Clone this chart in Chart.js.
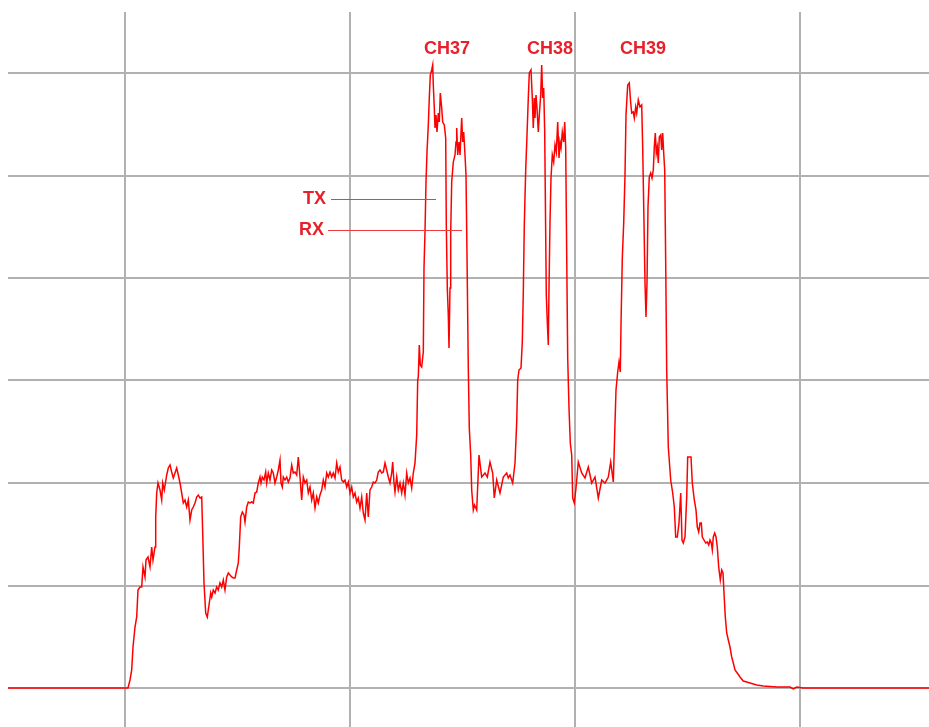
<!DOCTYPE html>
<html>
<head>
<meta charset="utf-8">
<title>BLE advertising channels</title>
<script src="https://cdn.jsdelivr.net/npm/chart.js@4.4.1/dist/chart.umd.min.js"></script>
<style>
  html, body { margin: 0; padding: 0; background: #ffffff; }
  #wrap { width: 929px; height: 727px; position: relative; }
  canvas { display: block; }
</style>
</head>
<body>
<div id="wrap"><canvas id="spectrum" width="929" height="727"></canvas></div>
<script>
// Trace sweep: frequency bin (relative to first division line) and level in counts
const traceX = [
  -117, 3, 5, 6.7, 8, 10, 11.7, 13, 15, 16.7, 18, 20, 21, 23, 25, 26.7, 28, 30, 30.7, 31.7,
  33, 35, 36.7, 37.7, 39.3, 41.7, 43.3, 45, 46.7, 48.3, 50, 51.7, 53.3, 55, 56.7, 58.3, 60, 61.7, 63.3, 65,
  66.7, 68.3, 70, 71.7, 73.3, 75, 76.7, 77.7, 79, 80.7, 82.3, 84.3, 85.7, 86.7, 88.3, 90, 91.7, 93.3, 95, 96.7,
  98.3, 100, 101.7, 103.3, 105, 106.7, 108.3, 110, 111.7, 113.3, 114.3, 115.7, 117.3, 119, 120, 121.7, 123.3, 125, 126.7, 128.3,
  130, 131.7, 133.3, 135, 136, 137.3, 139, 140.7, 141.7, 143.3, 145, 146.7, 148.3, 150, 151.7, 153.3, 155, 156, 157.3, 158.3,
  160, 161.7, 163.3, 165, 166.7, 168.3, 170, 171.7, 173.3, 175, 176.7, 178.3, 180, 181.7, 183.3, 185, 186.7, 188.3, 190, 191.7,
  193.3, 195, 196.7, 198.3, 200, 201.7, 203.3, 205, 206.7, 208.3, 210, 211.7, 213.3, 215, 216.7, 218.3, 220, 221.7, 223.3, 225,
  226.7, 228.3, 230, 231.7, 233.3, 235, 236.7, 238.3, 240, 241.7, 243.3, 245, 246.7, 248.3, 250, 251.7, 253.3, 255, 256.7, 258.3,
  260, 261.7, 263.3, 265, 266.7, 267.7, 269, 270, 271.7, 273.3, 275, 276.7, 278.3, 280, 281.7, 283.3, 285, 286.7, 288.3, 290,
  291.7, 292.7, 293.3, 294.3, 295.3, 296.7, 298.3, 299, 300, 301, 302, 303.3, 304.3, 305.3, 306.7, 307.7, 308.3, 309.3, 310, 311,
  312, 313.3, 314.3, 315.3, 316.7, 317.7, 319.3, 320.7, 321.3, 322.3, 323.3, 324, 325, 325.7, 326.7, 328.3, 330, 331, 331.7, 332.7,
  334, 335, 336.7, 337.7, 338.7, 340, 341, 342, 343.3, 344.3, 345.7, 346.7, 348.3, 349.5, 351.7, 354, 356.7, 360, 362.3, 365,
  367.7, 369.3, 371.7, 375, 378.3, 381.7, 383.3, 385, 387.7, 390, 391.7, 392.7, 394, 396, 397.3, 398.3, 399.3, 400.7, 402, 403.3,
  404.3, 406, 407.3, 408.3, 409.3, 410, 411, 412, 413.3, 414.3, 415.7, 416.7, 417.7, 418.7, 419.7, 420.7, 421.3, 422.3, 423.3, 424,
  425, 426, 427.3, 428.7, 430, 431.3, 432.7, 434, 435, 436, 437.3, 438.7, 439.7, 440.7, 441.7, 442.7, 444, 445.3, 446.7, 447.7,
  449.3, 451, 453.3, 456.7, 460, 463.3, 466.7, 470, 473.3, 476.7, 480, 483.3, 485.7, 488.3, 490, 491, 492.7, 494, 495.3, 496,
  497.3, 498.7, 500, 501, 502.7, 504.3, 505.7, 506.7, 508.3, 509.3, 510.7, 511.7, 513.3, 515, 516.7, 517.7, 519, 520, 521, 522,
  523, 524.3, 525.7, 527, 528.3, 529.3, 530.3, 531.3, 532.3, 533.3, 534.3, 535.7, 536.7, 537.7, 538.7, 539.7, 540.7, 541.7, 543.3, 545.7,
  547.7, 549.3, 550.7, 552.3, 554, 555.7, 557, 558.3, 560, 561.7, 562.7, 566, 567.3, 569.3, 571, 572.3, 573.7, 575, 576.3, 577.3,
  579, 580.7, 582.3, 583.7, 585, 586.3, 587.3, 588.3, 589.7, 591, 592.3, 593.7, 595.3, 596.7, 598, 599, 600.3, 601.7, 603.3, 605,
  606.7, 608.3, 610, 612.3, 615, 618.3, 621.7, 625, 628.3, 631.7, 638.3, 651.7, 665, 668.3, 671.7, 678, 804
];
const traceY = [
  0, 0, 8, 18, 41, 61, 71, 98, 101, 101, 121, 111, 128, 131, 121, 141, 128, 141, 171, 195,
  205, 198, 188, 205, 198, 213, 220, 223, 216, 210, 215, 220, 213, 205, 195, 185, 188, 181, 188, 168,
  178, 181, 185, 191, 193, 190, 191, 155, 105, 75, 71, 85, 95, 91, 98, 95, 101, 98, 105, 101,
  108, 98, 111, 115, 113, 111, 110, 110, 118, 125, 141, 171, 176, 173, 166, 181, 186, 185, 186, 185,
  195, 196, 205, 211, 205, 211, 208, 216, 205, 215, 208, 218, 215, 205, 211, 218, 228, 205, 201, 211,
  208, 211, 206, 210, 223, 215, 216, 213, 231, 211, 188, 211, 205, 208, 195, 201, 188, 195, 180, 191,
  185, 193, 198, 208, 201, 215, 211, 216, 211, 215, 210, 225, 216, 221, 208, 206, 208, 201, 206, 195,
  201, 191, 195, 186, 190, 180, 191, 175, 168, 195, 171, 198, 201, 206, 205, 208, 216, 218, 215, 216,
  225, 218, 211, 205, 215, 226, 205, 196, 211, 198, 205, 195, 205, 193, 215, 205, 210, 200, 215, 225,
  253, 308, 311, 343, 323, 321, 336, 420, 456, 506, 536, 563, 590, 613, 618, 623, 603, 580, 560, 573,
  556, 575, 566, 595, 580, 566, 563, 550, 463, 400, 373, 340, 400, 456, 506, 526, 533, 546, 560, 533,
  546, 533, 570, 546, 556, 533, 513, 433, 320, 260, 233, 198, 178, 183, 178, 233, 211, 215, 211, 226,
  215, 190, 208, 195, 211, 215, 210, 213, 205, 225, 266, 308, 318, 320, 346, 396, 463, 518, 553, 590,
  615, 618, 590, 560, 590, 570, 593, 580, 556, 573, 593, 623, 590, 600, 556, 453, 393, 366, 343, 400,
  466, 510, 533, 526, 543, 536, 566, 530, 546, 540, 556, 546, 566, 540, 433, 330, 280, 245, 233, 190,
  185, 200, 226, 215, 210, 221, 205, 211, 190, 208, 205, 211, 226, 206, 265, 298, 316, 326, 316, 363,
  430, 465, 513, 573, 603, 605, 585, 575, 576, 570, 581, 575, 588, 581, 583, 540, 465, 405, 371, 405,
  481, 511, 515, 510, 518, 541, 555, 535, 541, 525, 551, 553, 538, 555, 535, 518, 425, 318, 241, 208,
  195, 181, 151, 151, 165, 195, 148, 145, 151, 191, 231, 231, 205, 188, 178, 161, 156, 165, 165, 151,
  148, 145, 146, 143, 148, 145, 138, 151, 155, 151, 141, 121, 108, 118, 115, 95, 71, 55, 48, 41,
  31, 25, 18, 15, 11, 7, 6, 5, 4, 3, 2, 1, 1, -1, 1, 0, 0
];

// Division lines of the display graticule
const freqDivisions = [0, 225, 450, 675];
const levelDivisions = [0, 102.5, 205, 307.5, 410, 512.5, 615];

// Advertising channel names and the TX / RX slot names
const channelNames = ['CH37', 'CH38', 'CH39'];
const slotNames = ['TX', 'RX'];

// Placement of the text marks, in axis units
const channelLabelAt = [{ x: 322, y: 639 }, { x: 425, y: 639 }, { x: 518, y: 639 }];
const slotLabelAt = [
  { x: 201, y: 489, lineFrom: 206, lineTo: 311 },
  { x: 199, y: 458, lineFrom: 203, lineTo: 337 }
];

const TEXT_RED = '#e8202a';
const TRACE_RED = '#ff0000';
const GRID_GREY = '#b1b1b1';

const annotations = {
  id: 'annotations',
  afterDatasetsDraw(chart) {
    const { ctx, scales: { x, y } } = chart;
    ctx.save();
    ctx.font = 'bold 18px "Liberation Sans", Arial, sans-serif';
    ctx.fillStyle = TEXT_RED;
    ctx.textBaseline = 'middle';
    ctx.textAlign = 'center';
    channelNames.forEach((name, i) => {
      const p = channelLabelAt[i];
      ctx.fillText(name, x.getPixelForValue(p.x), y.getPixelForValue(p.y));
    });
    ctx.textAlign = 'right';
    ctx.strokeStyle = '#ee3a40';
    ctx.lineWidth = 1;
    slotNames.forEach((name, i) => {
      const p = slotLabelAt[i];
      const py = Math.round(y.getPixelForValue(p.y)) + 0.5;
      ctx.fillText(name, x.getPixelForValue(p.x), py);
      ctx.beginPath();
      ctx.moveTo(x.getPixelForValue(p.lineFrom), py);
      ctx.lineTo(x.getPixelForValue(p.lineTo), py);
      ctx.stroke();
    });
    ctx.restore();
  }
};

new Chart(document.getElementById('spectrum'), {
  type: 'line',
  data: {
    datasets: [{
      data: traceX.map((v, i) => ({ x: v, y: traceY[i] })),
      borderColor: TRACE_RED,
      borderWidth: 1.5,
      pointRadius: 0,
      tension: 0,
      fill: false
    }]
  },
  options: {
    responsive: false,
    animation: false,
    events: [],
    layout: { padding: { left: 8, top: 12, right: 0, bottom: 0 } },
    plugins: { legend: { display: false }, tooltip: { enabled: false } },
    scales: {
      x: {
        type: 'linear',
        min: -117,
        max: 804,
        afterBuildTicks: s => { s.ticks = freqDivisions.map(v => ({ value: v })); },
        ticks: { display: false },
        border: { display: false },
        grid: { color: GRID_GREY, lineWidth: 2, drawTicks: false }
      },
      y: {
        type: 'linear',
        min: -39,
        max: 676,
        afterBuildTicks: s => { s.ticks = levelDivisions.map(v => ({ value: v })); },
        ticks: { display: false },
        border: { display: false },
        grid: { color: GRID_GREY, lineWidth: 2, drawTicks: false }
      }
    }
  },
  plugins: [annotations]
});
</script>
</body>
</html>
